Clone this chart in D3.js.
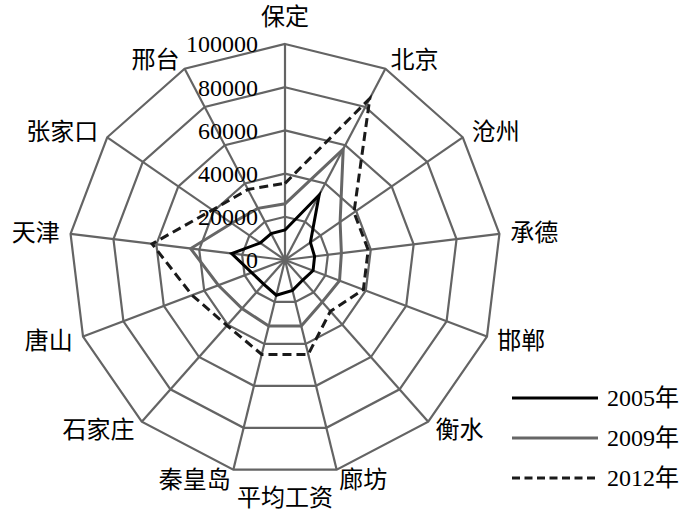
<!DOCTYPE html>
<html>
<head>
<meta charset="utf-8">
<script src="https://cdn.jsdelivr.net/npm/d3@7"></script>
<style>
  body { margin: 0; background: #fff; }
  svg { display: block; }
  text { font-family: "Liberation Serif", "Noto Sans CJK SC", serif; fill: #000; }
</style>
</head>
<body>
<svg width="700" height="520"></svg>
<script>
// radar chart - wages by city
let categories = ["保定", "北京", "沧州", "承德", "邯郸", "衡水", "廊坊",
                  "秦皇岛", "石家庄", "唐山", "天津", "张家口", "邢台"];
let years = ["2005年", "2009年", "2012年"];
let wage2005 = [13900, 34000, 14300, 13800, 13900, 12400, 14500, 16800, 14900, 16500, 24900, 13900, 13800];
let wage2009 = [26000, 58000, 31000, 26300, 27000, 26000, 31500, 31500, 30000, 33000, 44000, 30000, 27000];
let wage2012 = [35500, 84500, 38800, 38800, 38800, 31700, 45000, 45000, 40500, 46000, 62000, 40800, 36900];
let ticks = [0, 20000, 40000, 60000, 80000, 100000];
let axisTitle = "平均工资";

window.onload = function() {
  drawChart();
}

function drawChart() {
  let svg = d3.select('svg');
  let cx = 285, cy = 260, R = 216;
  let gridColor = "#646464";

  let r = d3.scaleLinear().domain([0, 100000]).range([0, R]);
  let angle = d3.scaleLinear().domain([0, categories.length]).range([0, 2 * Math.PI]);

  let g = svg.append('g').attr('transform', `translate(${cx},${cy})`);

  // rings
  let ring = d3.lineRadial()
    .angle((d, i) => angle(i))
    .radius(d => r(d))
    .curve(d3.curveLinearClosed);

  g.selectAll('.ring')
    .data(ticks.slice(1))
    .enter()
    .append('path')
    .attr('class', 'ring')
    .attr('d', t => ring(categories.map(() => t)))
    .style('fill', 'none')
    .style('stroke', gridColor)
    .style('stroke-width', 2.2);

  // spokes
  g.selectAll('.spoke')
    .data(categories)
    .enter()
    .append('line')
    .attr('x1', 0).attr('y1', 0)
    .attr('x2', (d, i) => r(100000) * Math.sin(angle(i)))
    .attr('y2', (d, i) => -r(100000) * Math.cos(angle(i)))
    .style('stroke', gridColor)
    .style('stroke-width', 2.2);

  // series
  let series = [
    {name: years[0], values: wage2005, color: "#000", dash: null},
    {name: years[1], values: wage2009, color: "#666", dash: null},
    {name: years[2], values: wage2012, color: "#1a1a1a", dash: "9,5"}
  ];

  g.selectAll('.series')
    .data(series)
    .enter()
    .append('path')
    .attr('class', 'series')
    .attr('d', s => ring(s.values))
    .style('fill', 'none')
    .style('stroke', s => s.color)
    .style('stroke-width', 3)
    .style('stroke-dasharray', s => s.dash);

  // tick labels along the top spoke
  g.selectAll('.tick')
    .data(ticks)
    .enter()
    .append('text')
    .attr('x', -27)
    .attr('y', d => -r(d))
    .attr('dy', '0.35em')
    .attr('text-anchor', 'end')
    .style('font-size', '24px')
    .text(d => d);

  // category labels
  g.selectAll('.cat')
    .data(categories)
    .enter()
    .append('text')
    .attr('x', (d, i) => (R + 11) * Math.sin(angle(i)))
    .attr('y', (d, i) => {
      let a = angle(i);
      if (Math.abs(Math.sin(a)) < 0.05) return -R - 27;
      return -R * Math.cos(a) - 10 * Math.cos(a);
    })
    .attr('dy', '0.35em')
    .attr('text-anchor', (d, i) => {
      let s = Math.sin(angle(i));
      if (Math.abs(s) < 0.05) return 'middle';
      return s > 0 ? 'start' : 'end';
    })
    .style('font-size', '24px')
    .text(d => d);

  svg.append('text')
    .attr('x', cx)
    .attr('y', 498)
    .attr('dy', '0.35em')
    .attr('text-anchor', 'middle')
    .style('font-size', '24px')
    .text(axisTitle);

  // legend
  let legend = svg.append('g').attr('transform', 'translate(512,398)');
  let item = legend.selectAll('.item')
    .data(series)
    .enter()
    .append('g')
    .attr('transform', (d, i) => `translate(0,${i * 40})`);
  item.append('line')
    .attr('x1', 0).attr('x2', 86)
    .style('stroke', d => d.color)
    .style('stroke-width', 3)
    .style('stroke-dasharray', d => d.dash ? "8,4.5" : null);
  item.append('text')
    .attr('x', 95)
    .attr('dy', '0.35em')
    .style('font-size', '24px')
    .text(d => d.name);
}
</script>
</body>
</html>
